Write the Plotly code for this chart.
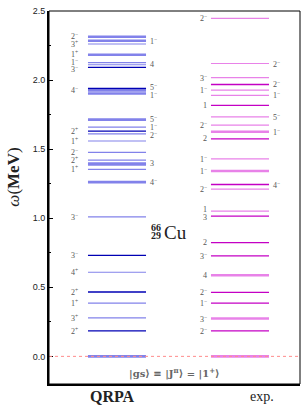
import plotly.graph_objects as go

# ---------------- data ----------------
columns = ["QRPA", "exp."]

qrpa_E = [2.314, 2.285, 2.261, 2.183, 2.127, 2.111, 2.092, 1.939, 1.925, 1.903,
          1.714, 1.660, 1.631, 1.610, 1.559, 1.476, 1.420, 1.395, 1.384, 1.354,
          1.261, 1.010, 0.731, 0.609, 0.466, 0.385, 0.279, 0.184, 0.0]
qrpa_J = ["2−", "1−", "3+", "1+", "1−", "4", "3−", "5−", "4−", "1−",
          "5−", "1−", "2+", "2−", "1+", "2−", "2+", "3", "", "1+",
          "4−", "3−", "3−", "4+", "2+", "1+", "3+", "2+", ""]
qrpa_side = ["L", "R", "L", "L", "L", "R", "L", "R", "L", "R",
             "R", "R", "L", "R", "L", "L", "L", "R", "", "L",
             "R", "L", "L", "L", "L", "L", "L", "L", ""]
qrpa_kind = ["thick", "thick", "thin", "thick", "thin", "thin", "dark", "dark", "thick", "thick",
             "thick", "thin", "dark", "thin", "thin", "thin", "thin", "thick", "thin", "thin",
             "thick", "thin", "dark", "thin", "dark", "thin", "thin", "dark", "thick"]

exp_E = [2.447, 2.120, 2.018, 1.968, 1.927, 1.889, 1.817, 1.734, 1.674, 1.626,
         1.574, 1.430, 1.342, 1.244, 1.211, 1.051, 1.015, 0.824, 0.728, 0.587,
         0.463, 0.385, 0.274, 0.184, 0.0]
exp_J = ["2−", "2−", "3−", "2−", "1−", "1−", "1", "5−", "2−", "1−",
         "2", "1−", "1−", "4−", "2−", "1", "3", "2", "3−", "4",
         "2−", "1−", "3−", "2−", ""]
exp_side = ["L", "R", "L", "R", "L", "R", "L", "R", "L", "R",
            "L", "L", "L", "R", "L", "L", "L", "L", "L", "L",
            "L", "L", "L", "L", ""]
exp_kind = ["thin", "thin", "thin", "dark", "thin", "thin", "dark", "thin", "thin", "thick",
            "dark", "thin", "thick", "dark", "thin", "thin", "dark", "dark", "dark", "thick",
            "dark", "dark", "thick", "dark", "thick"]

y_ticks = [0.0, 0.5, 1.0, 1.5, 2.0, 2.5]

# ---------------- style ----------------
HALF = 0.236
PX_PER_MEV = 377 / 2.7  # plot height in px / y-range
MIN_GAP = 8.0
colors = {
    "QRPA": {"thin": "#8282ea", "thick": "#8282ea", "dark": "#0000b4"},
    "exp.": {"thin": "#e882e8", "thick": "#e882e8", "dark": "#c400c4"},
}
widths = {"thin": 1.2, "thick": 2.6, "dark": 1.3}
SERIF = "Liberation Serif, DejaVu Serif, serif"
label_font = dict(family=SERIF, size=8, color="#555555")


def fmt(j):
    if j.endswith("+") or j.endswith("−"):
        return j[:-1] + "<sup>" + j[-1] + "</sup>"
    return j


def spread(ys):
    """push label pixel positions apart (ys sorted descending), return shifts"""
    pos = list(ys)
    for _ in range(50):
        moved = False
        for i in range(len(pos) - 1):
            d = pos[i] - pos[i + 1]
            if d < MIN_GAP:
                m = (MIN_GAP - d) / 2
                pos[i] += m
                pos[i + 1] -= m
                moved = True
        if not moved:
            break
    return [p - y for p, y in zip(pos, ys)]


fig = go.Figure()
annotations = []

for ci, (name, E, J, side, kind) in enumerate(
        [("QRPA", qrpa_E, qrpa_J, qrpa_side, qrpa_kind),
         ("exp.", exp_E, exp_J, exp_side, exp_kind)]):
    c = ci + 1
    for k in ["thin", "thick", "dark"]:
        xs, ys = [], []
        for e, kk in zip(E, kind):
            if kk == k:
                xs += [c - HALF, c + HALF, None]
                ys += [e, e, None]
        fig.add_trace(go.Scatter(x=xs, y=ys, mode="lines",
                                 line=dict(color=colors[name][k], width=widths[k]),
                                 hoverinfo="skip", showlegend=False))
    lgap = -8 if name == "QRPA" else -2
    for sd in ["L", "R"]:
        items = sorted([(e, j) for e, j, s in zip(E, J, side) if s == sd and j],
                       key=lambda t: -t[0])
        shifts = spread([e * PX_PER_MEV for e, _ in items])
        for (e, j), sh in zip(items, shifts):
            if sd == "L":
                annotations.append(dict(x=c - HALF, y=e, text=fmt(j), showarrow=False,
                                        xanchor="right", yanchor="middle", xshift=lgap,
                                        yshift=sh, font=label_font))
            else:
                annotations.append(dict(x=c + HALF, y=e, text=fmt(j), showarrow=False,
                                        xanchor="left", yanchor="middle", xshift=2,
                                        yshift=sh, font=label_font))

# nucleus label and other texts
annotations += [
    dict(x=1.366, y=0.895, text="Cu", showarrow=False, xanchor="left",
         yanchor="middle", font=dict(family=SERIF, size=19, color="#222")),
    dict(x=1.366, y=0.935, text="<b>66</b>", showarrow=False, xanchor="right",
         yanchor="middle", xshift=1, font=dict(family=SERIF, size=10, color="#222")),
    dict(x=1.366, y=0.875, text="<b>29</b>", showarrow=False, xanchor="right",
         yanchor="middle", xshift=1, font=dict(family=SERIF, size=10, color="#222")),
    dict(x=0.5, xref="paper", y=-0.122,
         text="<b>|gs⟩ ≡ |J<sup>π</sup>⟩ = |1<sup>+</sup>⟩</b>",
         showarrow=False, xanchor="center", yanchor="middle",
         font=dict(family="DejaVu Serif, serif", size=10, color="#666")),
    dict(x=0.967, y=-0.2, text="<b>QRPA</b>", showarrow=False, yanchor="middle", yshift=-12,
         font=dict(family=SERIF, size=16, color="#222")),
    dict(x=2.179, y=-0.2, text="exp.", showarrow=False, yanchor="middle", yshift=-12,
         font=dict(family=SERIF, size=14, color="#222")),
    dict(x=-0.14, xref="paper", y=1.3, text="<i>ω</i>(<b>MeV</b>)", showarrow=False,
         textangle=-90, xanchor="center", yanchor="middle",
         font=dict(family=SERIF, size=17, color="#222")),
]

fig.update_layout(
    width=306, height=407,
    margin=dict(l=49, r=6, t=7, b=23),
    paper_bgcolor="white", plot_bgcolor="white",
    annotations=annotations,
    shapes=[
        dict(type="line", xref="paper", x0=0, x1=1, yref="y", y0=0, y1=0,
             line=dict(color="#ff8c8c", width=1, dash="dot"), layer="above"),
        dict(type="rect", xref="paper", yref="paper", x0=0, x1=1, y0=0, y1=1,
             line=dict(color="black", width=1), layer="above"),
    ],
    xaxis=dict(range=[0.447, 2.488], showticklabels=False, ticks="", showgrid=False,
               zeroline=False, showline=True, linecolor="black", linewidth=2),
    yaxis=dict(range=[-0.2, 2.5], tickvals=y_ticks, tickformat=".1f",
               ticks="inside", ticklen=4, tickwidth=1, tickcolor="black",
               minor=dict(dtick=0.25, ticks="inside", ticklen=2, tickcolor="black"),
               showgrid=False, zeroline=False, showline=True, linecolor="black", linewidth=2,
               tickprefix="<b>", ticksuffix="</b>",
               tickfont=dict(family="Liberation Sans, Arial, sans-serif", size=9, color="#222")),
)

fig.write_html("out.html", config={"displayModeBar": False},
               post_script="document.body.style.margin='0';document.body.style.overflow='hidden';")
